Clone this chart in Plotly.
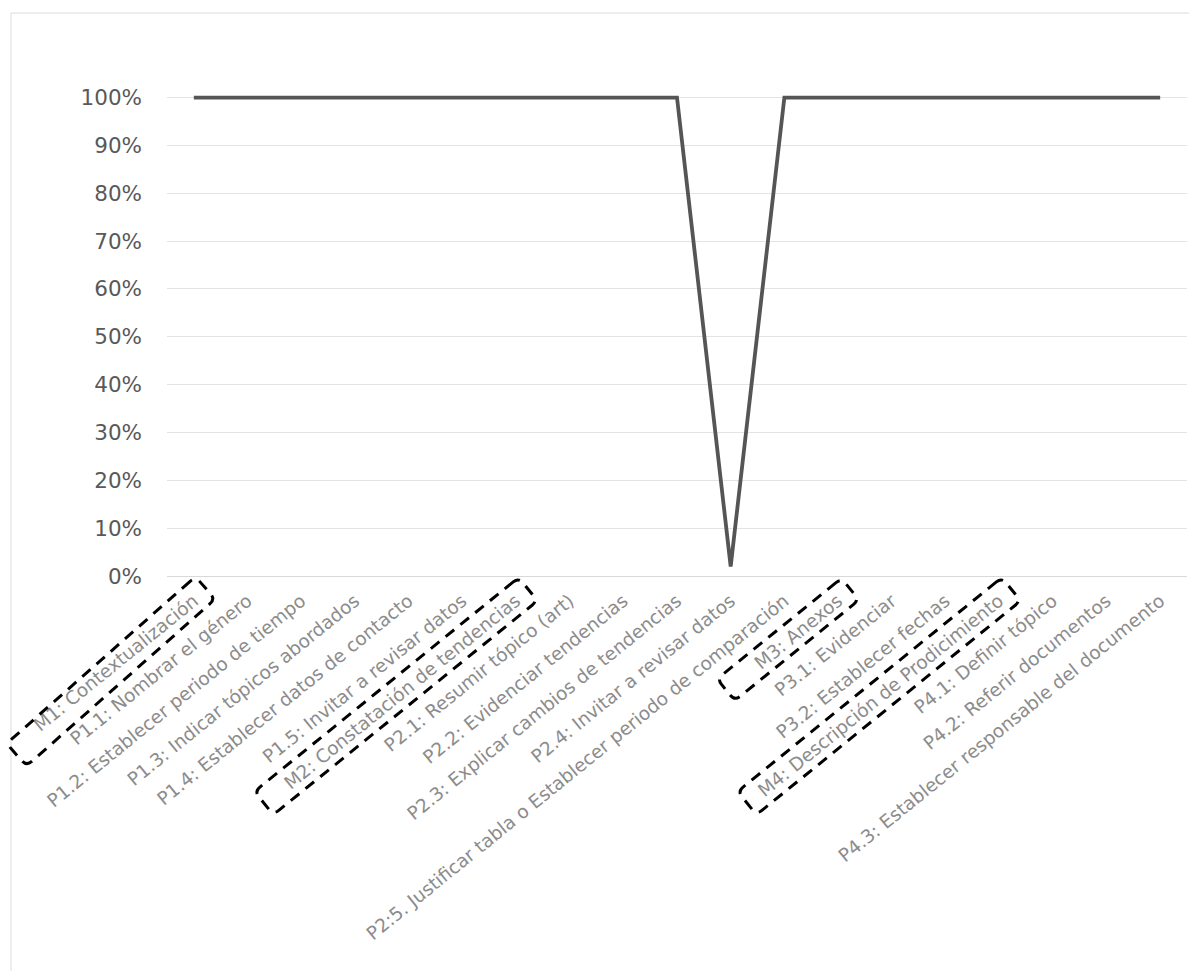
import math
import plotly.graph_objects as go

# ---------------- data ----------------
categories = [
    "M1: Contextualización",
    "P1.1: Nombrar el género",
    "P1.2: Establecer periodo de tiempo",
    "P1.3: Indicar tópicos abordados",
    "P1.4: Establecer datos de contacto",
    "P1.5: Invitar a revisar datos",
    "M2: Constatación de tendencias",
    "P2.1: Resumir tópico (art)",
    "P2.2: Evidenciar tendencias",
    "P2.3: Explicar cambios de tendencias",
    "P2.4: Invitar a revisar datos",
    "P2:5. Justificar tabla o Establecer periodo de comparación",
    "M3: Anexos",
    "P3.1: Evidenciar",
    "P3.2: Establecer fechas",
    "M4: Descripción de Prodicimiento",
    "P4.1: Definir tópico",
    "P4.2: Referir documentos",
    "P4.3: Establecer responsable del documento",
]
values = [1.00, 1.00, 1.00, 1.00, 1.00, 1.00, 1.00, 1.00, 1.00, 1.00,
          0.02, 1.00, 1.00, 1.00, 1.00, 1.00, 1.00, 1.00, 1.00]
y_ticks = [0.0, 0.1, 0.2, 0.3, 0.4, 0.5, 0.6, 0.7, 0.8, 0.9, 1.0]
boxed_categories = ["M1: Contextualización", "M2: Constatación de tendencias",
                    "M3: Anexos", "M4: Descripción de Prodicimiento"]

# ---------------- layout geometry ----------------
W, H = 1189, 971
ML, MR, MT, MB = 167, 2, 88, 395
YMAX = 1.02
plot_w = W - ML - MR
plot_h = H - MT - MB
n = len(categories)


def px_to_paper(px, py):
    return (px - ML) / plot_w, (H - MB - py) / plot_h


def cat_px(i):
    return ML + (i + 0.5) * plot_w / n


# box styling per boxed category: (angle deg, length px, half-width px, normal shift px)
box_style = {
    "M1: Contextualización": (41.5, 252, 15, 6),
    "M2: Constatación de tendencias": (39.0, 340, 15, 7),
    "M3: Anexos": (39.0, 160, 14, 7),
    "M4: Descripción de Prodicimiento": (39.0, 340, 15, 7),
}
box_anchor_dy = 14  # px below axis


def box_path(i, ang, length, hw, shift, r=7):
    ax, ay = cat_px(i), H - MB + box_anchor_dy
    t = math.radians(ang)
    d = (-math.cos(t), math.sin(t))
    nn = (math.sin(t), math.cos(t))
    a0 = -10
    a1 = a0 + length

    def P(a, b):
        b = b + shift
        return (ax + a * d[0] + b * nn[0], ay + a * d[1] + b * nn[1])

    pts = [
        ("M", P(a0 + r, -hw)),
        ("L", P(a1 - r, -hw)), ("Q", P(a1, -hw), P(a1, -hw + r)),
        ("L", P(a1, hw - r)), ("Q", P(a1, hw), P(a1 - r, hw)),
        ("L", P(a0 + r, hw)), ("Q", P(a0, hw), P(a0, hw - r)),
        ("L", P(a0, -hw + r)), ("Q", P(a0, -hw), P(a0 + r, -hw)),
    ]
    s = ""
    for item in pts:
        cmd = item[0]
        coords = []
        for (x, y) in item[1:]:
            px, py = px_to_paper(x, y)
            coords.append(f"{px:.5f},{py:.5f}")
        s += cmd + " " + " ".join(coords) + " "
    return s + "Z"


fig = go.Figure()
fig.add_trace(go.Scatter(
    x=categories, y=values, mode="lines",
    line=dict(color="#555555", width=3.8),
    hoverinfo="skip", showlegend=False,
))

shapes = []
# outer chart frame
fx0, fy0 = px_to_paper(11, 13)
fx1, fy1 = px_to_paper(1210, 990)
shapes.append(dict(type="rect", xref="paper", yref="paper",
                   x0=fx0, y0=fy1, x1=fx1, y1=fy0,
                   line=dict(color="#dcdcdc", width=1), layer="below"))
for c in boxed_categories:
    ang, L, hw, sh = box_style[c]
    shapes.append(dict(type="path", xref="paper", yref="paper",
                       path=box_path(categories.index(c), ang, L, hw, sh),
                       line=dict(color="black", width=3, dash="11px,8px")))

fig.update_layout(
    width=W, height=H,
    margin=dict(l=ML, r=MR, t=MT, b=MB, pad=0),
    paper_bgcolor="white", plot_bgcolor="white",
    shapes=shapes,
    xaxis=dict(
        type="category", range=[-0.5, n - 0.5],
        showgrid=False, showline=True, linecolor="#d9d9d9", linewidth=1,
        ticks="", tickangle=-39,
        tickfont=dict(family="DejaVu Sans", size=18.5, color="#8c8c8c"),
        ticklabelstandoff=6, automargin=False,
    ),
    yaxis=dict(
        range=[0, YMAX], tickvals=y_ticks, tickformat=".0%",
        showgrid=True, gridcolor="#e3e3e3", gridwidth=1,
        zeroline=False, showline=False, ticks="",
        tickfont=dict(family="DejaVu Sans", size=21.5, color="#595959"),
        ticklabelstandoff=24, automargin=False,
    ),
)

fig.write_html("out.html")
